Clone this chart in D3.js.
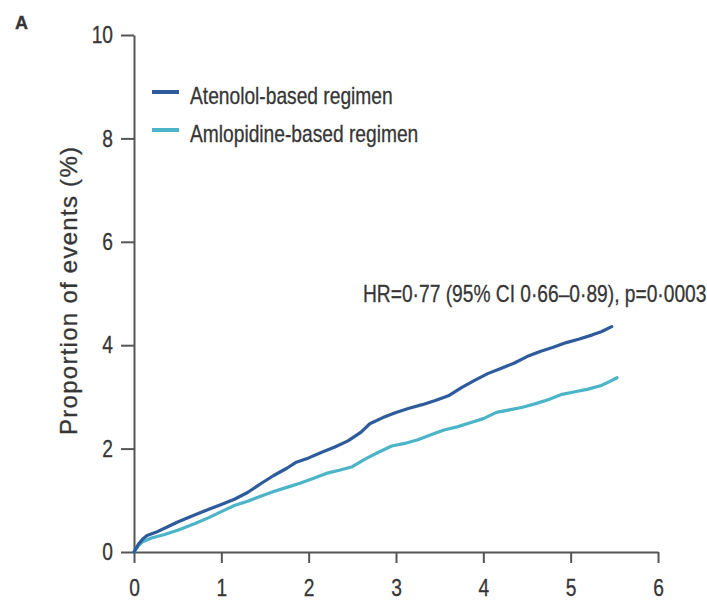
<!DOCTYPE html>
<html lang="en">
<head>
  <meta charset="UTF-8" />
  <title>Kaplan-Meier A</title>
  <script src="https://d3js.org/d3.v7.min.js"></script>
  <style>
    body { margin: 0; padding: 0; background: #fff; }
    svg { display: block; }
    text { font-family: "Liberation Sans", Arial, sans-serif; fill: #363636; stroke: #363636; stroke-width: 0.3; }
    .axis path, .axis line { stroke: #555; stroke-width: 2; }
  </style>
</head>
<body>
  <svg width="707" height="603"></svg>
  <script>
    // years of follow-up and cumulative proportion of events (%)
    const atenololYears = [0, 0.05, 0.1, 0.15, 0.25, 0.35, 0.5, 0.7, 0.85, 1.0, 1.15, 1.3, 1.45, 1.6, 1.75, 1.85, 2.0, 2.15, 2.3, 2.45, 2.6, 2.7, 2.85, 3.0, 3.15, 3.3, 3.45, 3.6, 3.75, 3.9, 4.05, 4.2, 4.35, 4.5, 4.65, 4.8, 4.95, 5.1, 5.25, 5.35, 5.47];
    const atenololValues = [0, 0.15, 0.25, 0.32, 0.38, 0.46, 0.58, 0.72, 0.82, 0.92, 1.02, 1.15, 1.32, 1.48, 1.62, 1.73, 1.82, 1.93, 2.03, 2.15, 2.32, 2.48, 2.6, 2.7, 2.78, 2.85, 2.93, 3.02, 3.18, 3.32, 3.45, 3.55, 3.65, 3.78, 3.88, 3.96, 4.05, 4.12, 4.2, 4.26, 4.36];

    const amlodipineYears = [0, 0.05, 0.1, 0.2, 0.35, 0.5, 0.7, 0.85, 1.0, 1.15, 1.3, 1.45, 1.6, 1.75, 1.9, 2.05, 2.2, 2.35, 2.5, 2.65, 2.8, 2.95, 3.1, 3.25, 3.4, 3.55, 3.7, 3.85, 4.0, 4.15, 4.3, 4.45, 4.6, 4.75, 4.9, 5.05, 5.2, 5.35, 5.45, 5.53];
    const amlodipineValues = [0, 0.12, 0.2, 0.27, 0.34, 0.42, 0.55, 0.66, 0.78, 0.9, 0.98, 1.08, 1.17, 1.25, 1.33, 1.42, 1.52, 1.58, 1.65, 1.8, 1.93, 2.05, 2.1, 2.17, 2.27, 2.36, 2.42, 2.5, 2.58, 2.7, 2.75, 2.8, 2.87, 2.95, 3.05, 3.1, 3.15, 3.22, 3.3, 3.37];

    const seriesNames = ["Atenolol-based regimen", "Amlopidine-based regimen"];
    const seriesColors = ["#2e5b9b", "#4bb4c9"];
    const xTicks = [0, 1, 2, 3, 4, 5, 6];
    const yTicks = [0, 2, 4, 6, 8, 10];
    const yLabel = "Proportion of events (%)";
    const hrText = "HR=0·77 (95% CI 0·66–0·89), p=0·0003";

    const svg = d3.select("svg");
    const squeeze = "scale(0.8,1)"; // the original face is a narrow one

    const x = d3.scaleLinear().domain([0, 6]).range([134, 658]);
    const y = d3.scaleLinear().domain([0, 10]).range([552, 35]);

    // axes
    svg.append("g")
      .attr("class", "axis")
      .attr("transform", "translate(0,552)")
      .call(d3.axisBottom(x).tickValues(xTicks).tickFormat(d3.format("d")).tickSize(11).tickSizeOuter(0).tickPadding(16))
      .call(g => g.selectAll("text")
        .attr("font-size", 24).attr("font-family", null).attr("fill", null)
        .attr("transform", squeeze));

    svg.append("g")
      .attr("class", "axis")
      .attr("transform", "translate(134,0)")
      .call(d3.axisLeft(y).tickValues(yTicks).tickFormat(d3.format("d")).tickSize(13).tickSizeOuter(0))
      .call(g => g.selectAll("text")
        .attr("font-size", 24).attr("font-family", null).attr("fill", null)
        .attr("x", null)
        .attr("transform", "translate(-21,0) " + squeeze));

    // curves
    const series = [
      atenololYears.map((t, i) => [t, atenololValues[i]]),
      amlodipineYears.map((t, i) => [t, amlodipineValues[i]])
    ];

    const line = d3.line().x(d => x(d[0])).y(d => y(d[1]));

    // draw amlodipine first so atenolol sits on top where they meet
    [1, 0].forEach(i => {
      svg.append("path")
        .datum(series[i])
        .attr("fill", "none")
        .attr("stroke", seriesColors[i])
        .attr("stroke-width", 3.2)
        .attr("stroke-linejoin", "round")
        .attr("stroke-linecap", "round")
        .attr("d", line);
    });

    // legend
    const legend = svg.append("g");
    seriesNames.forEach((name, i) => {
      const ly = 92 + i * 38;
      legend.append("line")
        .attr("x1", 152).attr("x2", 179)
        .attr("y1", ly).attr("y2", ly)
        .attr("stroke", seriesColors[i])
        .attr("stroke-width", 4);
      legend.append("text")
        .attr("transform", `translate(190,${ly + 12}) ${squeeze}`)
        .attr("font-size", 24)
        .text(name);
    });

    // annotation
    svg.append("text")
      .attr("transform", `translate(363,302) ${squeeze}`)
      .attr("font-size", 24)
      .text(hrText);

    // y axis title
    svg.append("text")
      .attr("transform", "translate(77,291) rotate(-90)")
      .attr("text-anchor", "middle")
      .attr("font-size", 24)
      .attr("textLength", 288)
      .attr("lengthAdjust", "spacing")
      .text(yLabel);

    // panel letter
    svg.append("text")
      .attr("x", 15)
      .attr("y", 29)
      .attr("font-size", 18)
      .attr("font-weight", "bold")
      .text("A");
  </script>
</body>
</html>
